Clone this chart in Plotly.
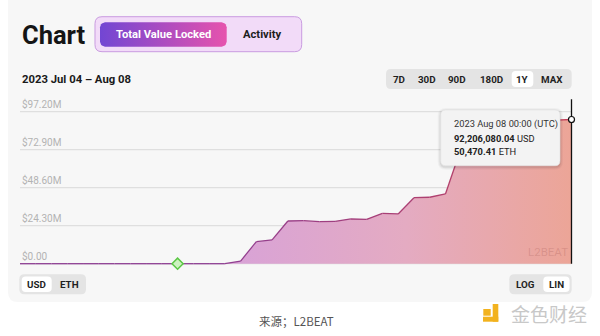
import numpy as np
import pandas as pd
import plotly.graph_objects as go

# ---- data -------------------------------------------------------------
dates = pd.date_range("2023-07-04", "2023-08-08", freq="D")
tvl_usd_m = [
    0, 0, 0, 0, 0, 0, 0, 0, 0, 0, 0, 0, 0, 0,      # Jul 04 - Jul 17
    1.7, 14.1, 15.2, 27.3, 27.5, 26.9, 27.1,        # Jul 18 - Jul 24
    28.6, 28.4, 32.2, 31.8, 42.2, 42.5, 44.6,       # Jul 25 - Jul 31
    74.0, 84.5, 86.0, 87.5, 88.6, 90.0, 91.8,       # Aug 01 - Aug 07
    92.20608004,                                     # Aug 08
]
tvl_usd = [v * 1e6 for v in tvl_usd_m]
y_ticks = [0, 24.3e6, 48.6e6, 72.9e6, 97.2e6]
milestone_date = "2023-07-14"
hover_date = pd.Timestamp("2023-08-08 00:00")
hover_usd = 92206080.04
hover_eth = 50470.41
range_buttons = ["7D", "30D", "90D", "180D", "1Y", "MAX"]
date_span_label = "2023 Jul 04 \u2013 Aug 08"

FONT = "Roboto, Inter, sans-serif"
W, H = 600, 336

# plot box in pixels
PX_LEFT, PX_RIGHT = 20, 571.5          # first / last day
PX_EXTRA = 14                          # room to the right for the crosshair dot
PX_ZERO, PX_TOP_TICK = 263.7, 111.7    # y pixel of 0 and of the top tick
PX_BOTTOM, PX_TOP = 268, 99


def hex2rgb(h):
    h = h.lstrip("#")
    return tuple(int(h[i:i + 2], 16) for i in (0, 2, 4))


def mix(c1, c2, t):
    a, b = hex2rgb(c1), hex2rgb(c2)
    return "rgb(%d,%d,%d)" % tuple(round(a[i] + (b[i] - a[i]) * t) for i in range(3))


def rrect(x0, y0, x1, y1, r, paper=False):
    def p(x, y):
        return f"{x / W:.5f},{1 - y / H:.5f}" if paper else f"{x},{y}"
    return (f"M {p(x0 + r, y0)} L {p(x1 - r, y0)} Q {p(x1, y0)} {p(x1, y0 + r)} "
            f"L {p(x1, y1 - r)} Q {p(x1, y1)} {p(x1 - r, y1)} L {p(x0 + r, y1)} "
            f"Q {p(x0, y1)} {p(x0, y1 - r)} L {p(x0, y0 + r)} Q {p(x0, y0)} {p(x0 + r, y0)} Z")


def rrect_points(x0, y0, x1, y1, r, n=8):
    xs, ys = [], []
    corners = [(x1 - r, y0 + r, -90, 0), (x1 - r, y1 - r, 0, 90),
               (x0 + r, y1 - r, 90, 180), (x0 + r, y0 + r, 180, 270)]
    for cx, cy, a0, a1 in corners:
        for a in np.linspace(np.radians(a0), np.radians(a1), n):
            xs.append(cx + r * np.cos(a))
            ys.append(cy + r * np.sin(a))
    xs.append(xs[0]); ys.append(ys[0])
    return xs, ys


fig = go.Figure()

# ---- area fill ----------------------------------------------------------
fig.add_trace(go.Scatter(
    x=dates, y=tvl_usd, mode="lines", line=dict(width=0),
    fill="tozeroy",
    fillgradient=dict(type="horizontal", colorscale=[
        [0.0, "#d9a2d5"], [0.4, "#d9a3d6"], [0.7, "#e4abc2"], [1.0, "#eca597"]]),
    hoverinfo="skip",
))

# ---- outline, coloured along the x direction ----------------------------
n = len(dates)
for k in range(n - 1):
    t = k / (n - 2)
    col = mix("#8e3f93", "#c3405a", max(0.0, (t - 0.35) / 0.65))
    fig.add_trace(go.Scatter(
        x=dates[k:k + 2], y=tvl_usd[k:k + 2], mode="lines",
        line=dict(color=col, width=1.3), hoverinfo="skip"))

# ---- milestone marker ---------------------------------------------------
fig.add_trace(go.Scatter(
    x=[milestone_date], y=[0], mode="markers", cliponaxis=False,
    marker=dict(symbol="diamond", size=8.5, color="#cdf2c0",
                line=dict(color="#5cc845", width=1.5)),
    hoverinfo="skip"))

# ---- gradient "Total Value Locked" pill (pixel overlay axes) -------------
px_, py_ = rrect_points(100, 22.3, 226.7, 46.7, 5)
fig.add_trace(go.Scatter(
    x=px_, y=py_, xaxis="x2", yaxis="y2", mode="lines", line=dict(width=0),
    fill="toself",
    fillgradient=dict(type="horizontal",
                      colorscale=[[0, "#7246d3"], [1, "#e653ad"]]),
    hoverinfo="skip"))

shapes = []


def panel(x0, y0, x1, y1, r, fill, line=None):
    shapes.append(dict(type="path", xref="paper", yref="paper", layer="below",
                       path=rrect(x0, y0, x1, y1, r, paper=True),
                       fillcolor=fill, line=line or dict(width=0)))


panel(8, -20, 592, 302, 10, "#f7f7f7")                       # card
panel(95, 16.7, 301.7, 51.7, 7, "#f2dbf8", dict(color="#c99ce0", width=1))
panel(386, 69, 571.7, 89, 5, "#e4e4e4")                      # range selector
panel(511.7, 71, 533.3, 87, 4, "#ffffff")
panel(19.3, 274.3, 86, 294.3, 5, "#e4e4e4")                  # USD / ETH
panel(21.7, 276.5, 51.7, 292, 4, "#ffffff")
panel(509.3, 274.3, 571.7, 294.3, 5, "#e4e4e4")              # LOG / LIN
panel(543.3, 276.5, 569.5, 292, 4, "#ffffff")

# gridlines at the tick values
for v in y_ticks:
    shapes.append(dict(type="line", xref="paper", yref="y", layer="below",
                       x0=PX_LEFT / W, x1=PX_RIGHT / W, y0=v, y1=v,
                       line=dict(color="#d9d9d9", width=1)))

# hover crosshair + point
shapes.append(dict(type="line", xref="x", yref="y2", layer="above",
                   x0=hover_date, x1=hover_date, y0=99.3, y1=263.7,
                   line=dict(color="#111111", width=1.3)))
shapes.append(dict(type="circle", xref="x", yref="y", layer="above",
                   xsizemode="pixel", ysizemode="pixel",
                   xanchor=hover_date, yanchor=hover_usd,
                   x0=-3, x1=3, y0=-3, y1=3,
                   fillcolor="#ffffff", line=dict(color="#111111", width=1.2)))

# tooltip with soft shadow
for grow, alpha in [(3, 0.03), (2, 0.04), (1, 0.06)]:
    shapes.append(dict(type="path", xref="x2", yref="y2", layer="above",
                       path=rrect(440.7 - grow, 110 - grow + 1, 560 + grow, 165.7 + grow + 1, 5 + grow),
                       fillcolor=f"rgba(0,0,0,{alpha})", line=dict(width=0)))
shapes.append(dict(type="path", xref="x2", yref="y2", layer="above",
                   path=rrect(440.7, 110, 560, 165.7, 5),
                   fillcolor="#f3f3f3", line=dict(color="#e2e2e2", width=0.6)))

# logo mark
for x0, y0, x1, y1 in [(483.3, 309, 490.7, 315.7), (492.7, 304, 498.3, 321.7),
                       (483, 316.7, 498.3, 321.7)]:
    shapes.append(dict(type="rect", xref="x2", yref="y2", layer="above",
                       x0=x0, x1=x1, y0=y0, y1=y1,
                       fillcolor="#f2b21e", line=dict(width=0)))

ann = []


def label(x, y, text, size, color="#1a1a1a", anchor="center", family=FONT, **kw):
    ann.append(dict(x=x, y=y, xref="x2", yref="y2", text=text, showarrow=False,
                    xanchor=anchor, yanchor="middle",
                    font=dict(family=family, size=size, color=color), **kw))


label(20, 34.5, "<b>Chart</b>", 25.5, "#151515", anchor="left")
label(163.3, 34.5, "<b>Total Value Locked</b>", 11.2, "#ffffff")
label(262, 34.5, "<b>Activity</b>", 11.2, "#1d1d1d")
label(20, 79.5, f"<b>{date_span_label}</b>", 11.3, "#1a1a1a", anchor="left")

btn_x = [399, 426.7, 457.3, 491.7, 522.5, 552.3]
for bx, name in zip(btn_x, range_buttons):
    label(bx, 79, f"<b>{name}</b>", 9.8, "#1f1f1f")

label(36.7, 284.3, "<b>USD</b>", 9.8, "#1f1f1f")
label(69, 284.3, "<b>ETH</b>", 9.8, "#1f1f1f")
label(525.7, 284.3, "<b>LOG</b>", 9.8, "#1f1f1f")
label(556.4, 284.3, "<b>LIN</b>", 9.8, "#1f1f1f")

# y-axis value labels sit just above their gridlines
for v in y_ticks:
    txt = "$0.00" if v == 0 else f"${v / 1e6:.2f}M"
    ann.append(dict(x=PX_LEFT / W, y=v, xref="paper", yref="y", text=txt, showarrow=False,
                    xanchor="left", yanchor="middle", yshift=7.8,
                    font=dict(family=FONT, size=10, color="#b3b3b3")))

# tooltip text
label(451.5, 124, hover_date.strftime("%Y %b %d %H:%M") + " (UTC)", 9.3, "#333333", anchor="left")
label(451.5, 138.3, f"<b>{hover_usd:,.2f}</b> USD", 9.3, "#222222", anchor="left")
label(451.5, 151.7, f"<b>{hover_eth:,.2f}</b> ETH", 9.3, "#222222", anchor="left")

# watermark
label(548, 251.5, "L2BEAT", 11.5, "rgba(150,70,70,0.22)", family="Liberation Sans Narrow, Roboto")

# footer
label(296, 321, "来源；L2BEAT", 11.5, "#555555", family="Noto Sans CJK SC")
label(549, 313.5, "金色财经", 19, "#c8c8c8", family="Noto Sans CJK SC")

px_per_day = (PX_RIGHT - PX_LEFT) / (len(dates) - 1)
x_end = dates[-1] + pd.Timedelta(days=PX_EXTRA / px_per_day)
usd_per_px = y_ticks[-1] / (PX_ZERO - PX_TOP_TICK)

fig.update_layout(
    width=W, height=H, margin=dict(l=0, r=0, t=0, b=0),
    paper_bgcolor="#ffffff", plot_bgcolor="rgba(0,0,0,0)",
    showlegend=False, hovermode=False,
    xaxis=dict(domain=[PX_LEFT / W, (PX_RIGHT + PX_EXTRA) / W],
               range=[dates[0], x_end], visible=False, fixedrange=True),
    yaxis=dict(domain=[1 - PX_BOTTOM / H, 1 - PX_TOP / H],
               range=[-(PX_BOTTOM - PX_ZERO) * usd_per_px, (PX_ZERO - PX_TOP) * usd_per_px],
               showticklabels=False, showgrid=False, zeroline=False,
               showline=False, ticks="", fixedrange=True),
    xaxis2=dict(domain=[0, 1], range=[0, W], visible=False, anchor="y2",
                fixedrange=True),
    yaxis2=dict(domain=[0, 1], range=[H, 0], visible=False, anchor="x2",
                fixedrange=True),
    shapes=shapes, annotations=ann,
)

fig.write_html("out.html")
